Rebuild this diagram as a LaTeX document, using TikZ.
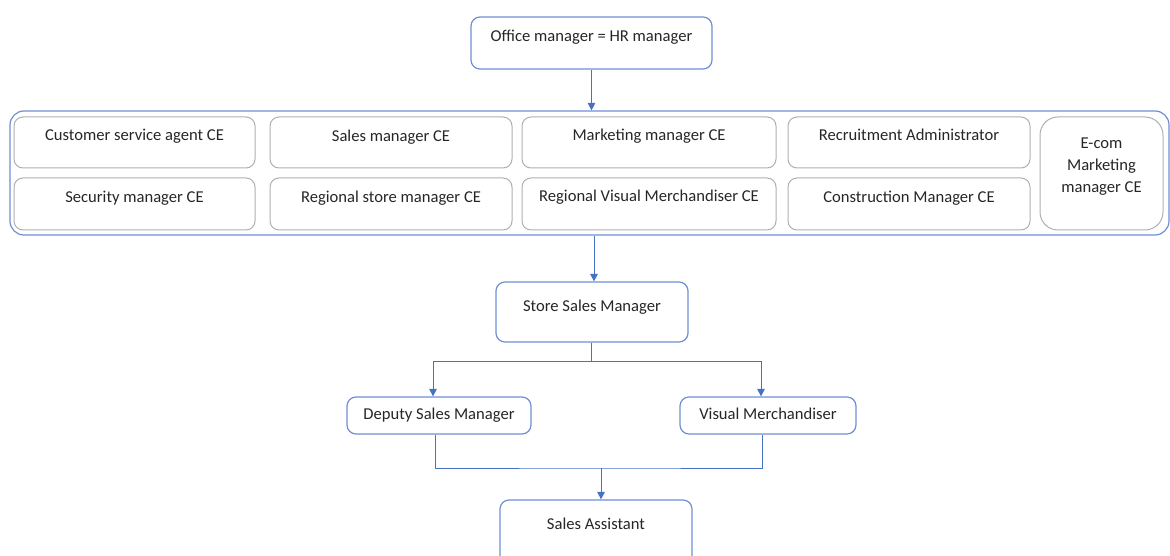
\documentclass[tikz,border=0pt]{standalone}
\usepackage{fontspec}
\setmainfont{Carlito}
\usetikzlibrary{arrows.meta}
\definecolor{blu}{HTML}{4472C4}
\definecolor{bord}{HTML}{6F8FD3}
\definecolor{gry}{HTML}{AFAFAF}
\definecolor{txt}{HTML}{262626}
\begin{document}
\begin{tikzpicture}[x=1pt,y=-1pt,
  bbox/.style={draw=bord, line width=1.2pt, rounded corners=9pt, inner sep=0pt},
  gbox/.style={draw=gry, line width=1pt, rounded corners=9pt, inner sep=0pt},
  lbl/.style={font=\fontsize{16.6}{22}\selectfont, text=txt, align=center, text height=0.7em, text depth=0.2em, inner sep=0pt},
  conn/.style={draw=blu, line width=1pt},
  arr/.style={conn, -{Triangle[width=7.5pt,length=7.5pt]}}]
\useasboundingbox (0,0) rectangle (1170,556);
\clip (0,0) rectangle (1170,556);
% top
\node[bbox, minimum width=241pt, minimum height=52pt] (om) at (591.5,43) {};
\node[lbl] (omt) at (591.5,39) {Office manager = HR manager};
% container
\node[bbox, rounded corners=14pt, minimum width=1159pt, minimum height=124pt] (cont) at (589.5,173) {};
% row 1
\node[gbox, minimum width=241pt, minimum height=51pt] (c1) at (134.5,142.5) {};
\node[gbox, minimum width=242pt, minimum height=51pt] (c2) at (391,142.5) {};
\node[gbox, minimum width=254pt, minimum height=51pt] (c3) at (649,142.5) {};
\node[gbox, minimum width=242pt, minimum height=51pt] (c4) at (909,142.5) {};
\node[lbl] (c1t) at (134.5,138) {Customer service agent CE};
\node[lbl] (c2t) at (391,139) {Sales manager CE};
\node[lbl] (c3t) at (649,138) {Marketing manager CE};
\node[lbl] (c4t) at (909,138) {Recruitment Administrator};
% row 2
\node[gbox, minimum width=241pt, minimum height=52pt] (d1) at (134.5,204) {};
\node[gbox, minimum width=242pt, minimum height=52pt] (d2) at (391,204) {};
\node[gbox, minimum width=254pt, minimum height=52pt] (d3) at (649,204) {};
\node[gbox, minimum width=242pt, minimum height=52pt] (d4) at (909,204) {};
\node[lbl] (d1t) at (134.5,200) {Security manager CE};
\node[lbl] (d2t) at (391,200) {Regional store manager CE};
\node[lbl] (d3t) at (649,199) {Regional Visual Merchandiser CE};
\node[lbl] (d4t) at (909,200) {Construction Manager CE};
% e-com
\node[gbox, rounded corners=18pt, minimum width=123pt, minimum height=113pt] (e) at (1101.5,173.5) {};
\node[lbl, text height=, text depth=] (et) at (1101.5,167) {E-com\\Marketing\\manager CE};
% store sales manager
\node[bbox, minimum width=192pt, minimum height=60pt] (ssm) at (592,312) {};
\node[lbl] (ssmt) at (592,309) {Store Sales Manager};
% deputy and visual
\node[bbox, minimum width=184pt, minimum height=37pt] (dsm) at (439,415.5) {};
\node[lbl] (dsmt) at (439,417) {Deputy Sales Manager};
\node[bbox, minimum width=176pt, minimum height=37pt] (vm) at (768,415.5) {};
\node[lbl] (vmt) at (768,417) {Visual Merchandiser};
% sales assistant
\node[bbox, minimum width=192pt, minimum height=75pt] (sa) at (596,537.5) {};
\node[lbl] (sat) at (596,527) {Sales Assistant};
% connectors
\draw[arr] (om.south) -- (om.south |- cont.north);
\draw[arr] (cont.south -| 594,0) -- (594,0 |- ssm.north);
\coordinate (j1) at (591,361);
\draw[conn] (ssm.south -| j1) -- (j1);
\draw[arr] (j1) -| ([xshift=-6pt]dsm.north);
\draw[arr] (j1) -| ([xshift=-7pt]vm.north);
\coordinate (j2) at (601,468);
\draw[conn] ([xshift=-4pt]dsm.south) |- (j2) -| ([xshift=-6pt]vm.south);
\draw[arr] (j2) -- (j2 |- sa.north);
\end{tikzpicture}
\end{document}
